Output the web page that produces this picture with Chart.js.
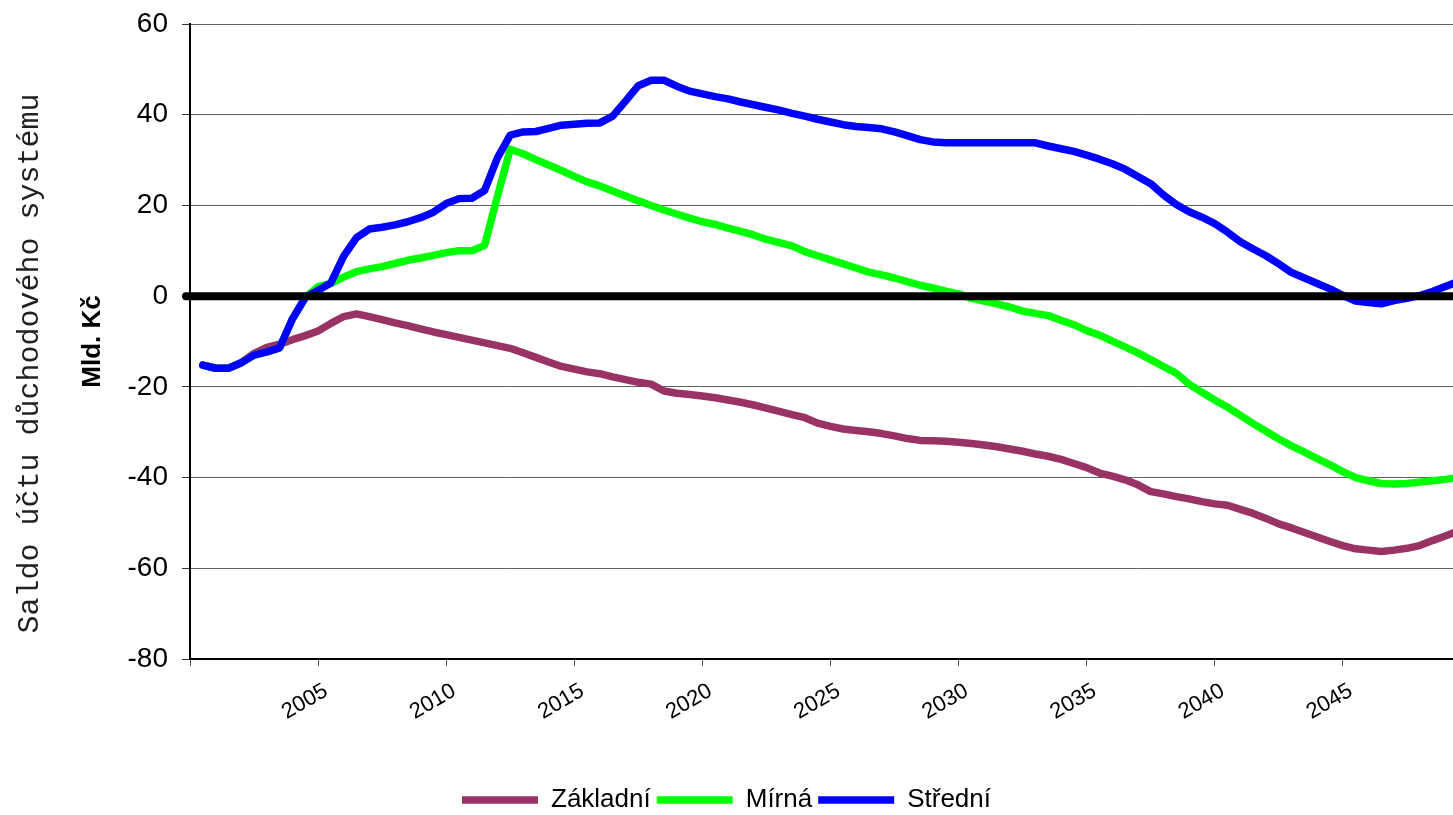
<!DOCTYPE html>
<html>
<head>
<meta charset="utf-8">
<script src="https://cdn.jsdelivr.net/npm/chart.js@4.4.0/dist/chart.umd.min.js"></script>
<style>
  body { margin: 0; background: #fff; }
  canvas { display: block; }
</style>
</head>
<body>
<canvas id="saldoChart" width="1453" height="815"></canvas>
<script>
// half-year steps 2001 .. 2050
const periods = Array.from({ length: 99 }, (_, i) => 2001 + i / 2);
const tickYears = [2005, 2010, 2015, 2020, 2025, 2030, 2035, 2040, 2045];

const zakladni = [
  -15.2, -15.9, -15.9, -14.7, -12.6, -11.3, -10.6, -9.6, -8.7, -7.7,
  -6.0, -4.5, -3.9, -4.5, -5.2, -5.9, -6.5, -7.2, -7.9, -8.5,
  -9.1, -9.7, -10.3, -10.9, -11.5, -12.5, -13.5, -14.5, -15.5, -16.1,
  -16.7, -17.1, -17.8, -18.4, -19.0, -19.4, -20.9, -21.4, -21.7, -22.0,
  -22.4, -22.9, -23.4, -24.0, -24.7, -25.4, -26.1, -26.8, -28.0, -28.7,
  -29.3, -29.6, -29.9, -30.3, -30.8, -31.4, -31.8, -31.9, -32.0, -32.2,
  -32.5, -32.8, -33.2, -33.7, -34.2, -34.8, -35.3, -36.0, -36.9, -37.8,
  -39.0, -39.7, -40.5, -41.6, -43.1, -43.6, -44.2, -44.7, -45.3, -45.8,
  -46.1, -47.0, -47.9, -49.0, -50.2, -51.1, -52.1, -53.1, -54.1, -55.0,
  -55.7, -56.0, -56.3, -56.0, -55.6, -55.0, -53.9, -52.9, -51.8
];

const mirna = [
  -15.2, -15.9, -15.9, -14.7, -13.0, -12.3, -11.4, -5.0, -0.3, 2.1,
  2.8, 4.2, 5.4, 6.0, 6.5, 7.2, 7.9, 8.4, 9.0, 9.6,
  10.0, 10.0, 11.2, 22.0, 32.4, 31.4, 30.1, 28.9, 27.7, 26.4,
  25.2, 24.3, 23.2, 22.1, 21.0, 20.0, 19.0, 18.1, 17.2, 16.4,
  15.8, 15.0, 14.3, 13.5, 12.5, 11.8, 11.1, 9.8, 8.9, 8.0,
  7.1, 6.2, 5.3, 4.7, 4.0, 3.2, 2.4, 1.8, 1.1, 0.5,
  -0.5, -1.1, -1.7, -2.4, -3.3, -3.8, -4.3, -5.3, -6.3, -7.6,
  -8.6, -9.9, -11.2, -12.5, -14.0, -15.5, -17.0, -19.4, -21.2, -22.9,
  -24.5, -26.3, -28.1, -29.8, -31.5, -33.0, -34.4, -35.8, -37.2, -38.7,
  -40.0, -40.7, -41.3, -41.4, -41.3, -41.0, -40.7, -40.4, -40.0
];

const stredni = [
  -15.2, -15.9, -15.9, -14.7, -13.0, -12.3, -11.4, -5.0, -0.3, 1.3,
  2.9, 8.8, 12.9, 14.8, 15.2, 15.7, 16.4, 17.3, 18.5, 20.4,
  21.5, 21.6, 23.3, 30.5, 35.5, 36.2, 36.3, 37.0, 37.7, 37.9,
  38.1, 38.2, 39.7, 43.0, 46.4, 47.6, 47.6, 46.3, 45.2, 44.6,
  44.0, 43.5, 42.8, 42.2, 41.6, 41.0, 40.3, 39.7, 39.0, 38.4,
  37.8, 37.4, 37.2, 36.9, 36.2, 35.4, 34.5, 34.0, 33.8, 33.8,
  33.8, 33.8, 33.8, 33.8, 33.8, 33.8, 33.1, 32.5, 31.9, 31.1,
  30.2, 29.2, 28.0, 26.4, 24.8, 22.3, 20.2, 18.6, 17.4, 16.0,
  14.1, 12.0, 10.4, 8.9, 7.1, 5.2, 4.0, 2.8, 1.6, 0.2,
  -1.1, -1.4, -1.7, -1.0, -0.5, 0.1, 1.0, 2.1, 3.2
];

const outerTitle = "Saldo účtu důchodového systému";
const font = '"Liberation Sans", Arial, sans-serif';

const toPoints = values => values.map((v, i) => ({ x: periods[i], y: v }));

function series(label, values, color, order) {
  return {
    label,
    data: toPoints(values),
    borderColor: color,
    backgroundColor: color,
    borderWidth: 7.5,
    borderCapStyle: 'round',
    borderJoinStyle: 'round',
    pointRadius: 0,
    tension: 0,
    order
  };
}

// thick zero line drawn over the series, plus the outer axis caption
const extras = {
  id: 'extras',
  afterDatasetsDraw(chart) {
    const { ctx, chartArea, scales } = chart;
    const py = scales.y.getPixelForValue(0);
    ctx.save();
    ctx.strokeStyle = '#000';
    ctx.lineWidth = 8;
    ctx.lineCap = 'round';
    ctx.beginPath();
    ctx.moveTo(chartArea.left - 4, py);
    ctx.lineTo(chartArea.right + 4, py);
    ctx.stroke();
    ctx.restore();
  },
  afterDraw(chart) {
    const { ctx, chartArea } = chart;
    ctx.save();
    ctx.translate(30, (chartArea.top + chartArea.bottom) / 2 + 22);
    ctx.rotate(-Math.PI / 2);
    ctx.font = '30px "Liberation Mono", monospace';
    ctx.fillStyle = '#222';
    ctx.textAlign = 'center';
    ctx.textBaseline = 'middle';
    ctx.fillText(outerTitle, 0, 0);
    ctx.restore();
  }
};

new Chart(document.getElementById('saldoChart'), {
  type: 'line',
  data: {
    datasets: [
      series('Základní', zakladni, '#993366', 2),
      series('Mírná', mirna, '#00ff00', 1),
      series('Střední', stredni, '#0000ff', 0)
    ]
  },
  options: {
    responsive: false,
    animation: false,
    layout: { padding: { left: 0, top: 24, right: 0, bottom: -8 } },
    plugins: {
      tooltip: { enabled: false },
      legend: {
        position: 'bottom',
        labels: {
          sort: (a, b) => a.datasetIndex - b.datasetIndex,
          usePointStyle: true,
          pointStyle: 'line',
          pointStyleWidth: 76,
          padding: 6,
          color: '#000',
          font: { family: font, size: 26 }
        }
      }
    },
    scales: {
      x: {
        type: 'linear',
        min: 2000.5,
        max: 2049.8,
        afterBuildTicks: scale => {
          scale.ticks = [{ value: 2000.5 }].concat(tickYears.map(y => ({ value: y + 0.5 })));
        },
        afterFit: scale => { scale.height = 122; },
        grid: { drawOnChartArea: false, color: '#555', tickLength: 7 },
        border: { color: '#000', width: 2 },
        ticks: {
          autoSkip: false,
          minRotation: 30,
          maxRotation: 30,
          padding: 12,
          labelOffset: 8,
          color: '#000',
          font: { family: font, size: 22 },
          callback: v => (v === 2000.5 ? '' : String(v - 0.5))
        }
      },
      y: {
        min: -80,
        max: 60,
        afterFit: scale => { scale.width = 190; },
        grid: { color: '#606060', lineWidth: 1, tickColor: '#333', tickLength: 8 },
        border: { color: '#000', width: 2 },
        ticks: {
          stepSize: 20,
          padding: 14,
          color: '#000',
          font: { family: font, size: 28, lineHeight: 0.7 }
        },
        title: {
          display: true,
          text: 'Mld. Kč',
          color: '#000',
          font: { family: font, size: 26, weight: 'bold' },
          padding: { top: 77, bottom: 0 }
        }
      }
    }
  },
  plugins: [extras]
});
</script>
</body>
</html>
